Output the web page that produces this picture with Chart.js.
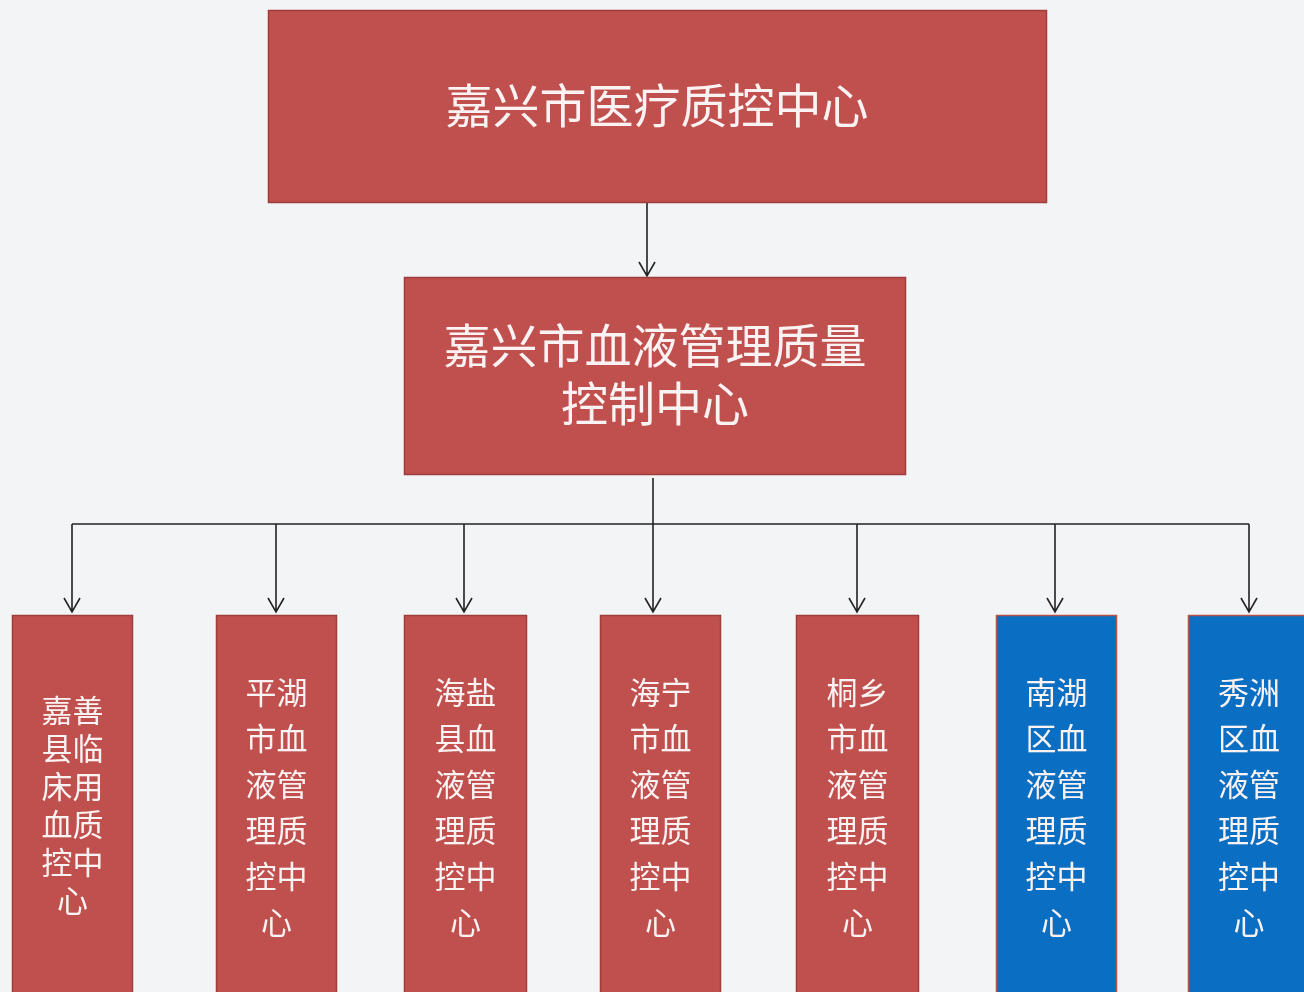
<!DOCTYPE html>
<html>
<head>
<meta charset="utf-8">
<script src="https://cdn.jsdelivr.net/npm/chart.js@4.4.1/dist/chart.umd.min.js"></script>
<style>
  html, body { margin: 0; padding: 0; background: #f3f4f6; }
  #org { display: block; }
</style>
</head>
<body>
<canvas id="org" width="1304" height="992"></canvas>
<script>
// Texte des noeuds
const topLabel = ['嘉兴市医疗质控中心'];
const midLabel = ['嘉兴市血液管理质量', '控制中心'];
const branchLabels = [
    ['嘉善', '县临', '床用', '血质', '控中', '心'],
    ['平湖', '市血', '液管', '理质', '控中', '心'],
    ['海盐', '县血', '液管', '理质', '控中', '心'],
    ['海宁', '市血', '液管', '理质', '控中', '心'],
    ['桐乡', '市血', '液管', '理质', '控中', '心'],
    ['南湖', '区血', '液管', '理质', '控中', '心'],
    ['秀洲', '区血', '液管', '理质', '控中', '心']
];
const branchKind = ['county', 'county', 'county', 'county', 'county', 'district', 'district'];

// Mise en page (unités des axes)
const topBox = { x0: 268, x1: 1047, y0: 10, y1: 203 };
const midBox = { x0: 404, x1: 906, y0: 277, y1: 475 };
const branchX0 = [12, 216, 404, 600, 796, 996, 1188];
const branchX1 = [133, 337, 527, 721, 919, 1117, 1310];
const branchArrowX = [72, 276, 464, 653, 857, 1055, 1249];
const branchTop = 615, branchBottom = 1000, busY = 524;

const RED = '#c0504d', RED_EDGE = '#9e3d3a', BLUE = '#0a6fc2';
const FONT = '"Noto Sans CJK SC", "Noto Sans", sans-serif';

const orgPlugin = {
    id: 'orgBoxes',
    afterDatasetsDraw(chart) {
        const c = chart.ctx;
        const sx = v => chart.scales.x.getPixelForValue(v);
        const sy = v => chart.scales.y.getPixelForValue(v);

        const box = (b, fill, edge) => {
            const x = sx(b.x0), y = sy(b.y0);
            const w = sx(b.x1) - x, h = sy(b.y1) - y;
            c.fillStyle = fill;
            c.fillRect(x, y, w, h);
            c.strokeStyle = edge;
            c.lineWidth = 1.5;
            c.strokeRect(x + 0.5, y + 0.5, w - 1, h - 1);
        };

        const text = (lines, cx, cy, size, gap) => {
            c.fillStyle = '#fbf3f3';
            c.font = `${size}px ${FONT}`;
            c.textAlign = 'center';
            c.textBaseline = 'middle';
            const start = cy - gap * (lines.length - 1) / 2;
            lines.forEach((t, i) => c.fillText(t, sx(cx), sy(start + i * gap)));
        };

        const arrow = (x, y0, y1) => {
            c.strokeStyle = '#222';
            c.lineWidth = 1.6;
            c.beginPath();
            c.moveTo(sx(x), sy(y0));
            c.lineTo(sx(x), sy(y1));
            c.moveTo(sx(x) - 8, sy(y1) - 14);
            c.lineTo(sx(x), sy(y1));
            c.lineTo(sx(x) + 8, sy(y1) - 14);
            c.stroke();
        };

        c.save();
        // les liaisons
        arrow(647, topBox.y1, midBox.y0 - 1);
        arrow(653, midBox.y1 + 3, branchTop - 3);
        c.beginPath();
        c.moveTo(sx(branchArrowX[0]), sy(busY));
        c.lineTo(sx(branchArrowX[branchArrowX.length - 1]), sy(busY));
        c.stroke();
        branchArrowX.forEach((x, i) => { if (i !== 3) arrow(x, busY, branchTop - 3); });

        // les boites
        box(topBox, RED, RED_EDGE);
        text(topLabel, 657, 105, 47, 0);
        box(midBox, RED, RED_EDGE);
        text(midLabel, 655, 374, 47, 58);

        branchLabels.forEach((lines, i) => {
            const b = { x0: branchX0[i], x1: branchX1[i], y0: branchTop, y1: branchBottom };
            const blue = branchKind[i] === 'district';
            box(b, blue ? BLUE : RED, blue ? '#b5504a' : RED_EDGE);
            const cx = Math.min((branchX0[i] + branchX1[i]) / 2, 1250);
            if (i === 0) text(lines, cx, 805, 31, 38);
            else text(lines, cx, 807, 31, 46);
        });
        c.restore();
    }
};

new Chart(document.getElementById('org'), {
    type: 'scatter',
    data: {
        datasets: [{
            data: branchArrowX.map(x => ({ x: x, y: branchTop })),
            pointRadius: 0
        }]
    },
    options: {
        responsive: false,
        animation: false,
        layout: { padding: 0 },
        plugins: { legend: { display: false }, tooltip: { enabled: false } },
        scales: {
            x: { type: 'linear', min: 0, max: 1304, display: false },
            y: { type: 'linear', min: 0, max: 992, reverse: true, display: false }
        }
    },
    plugins: [orgPlugin]
});
</script>
</body>
</html>
